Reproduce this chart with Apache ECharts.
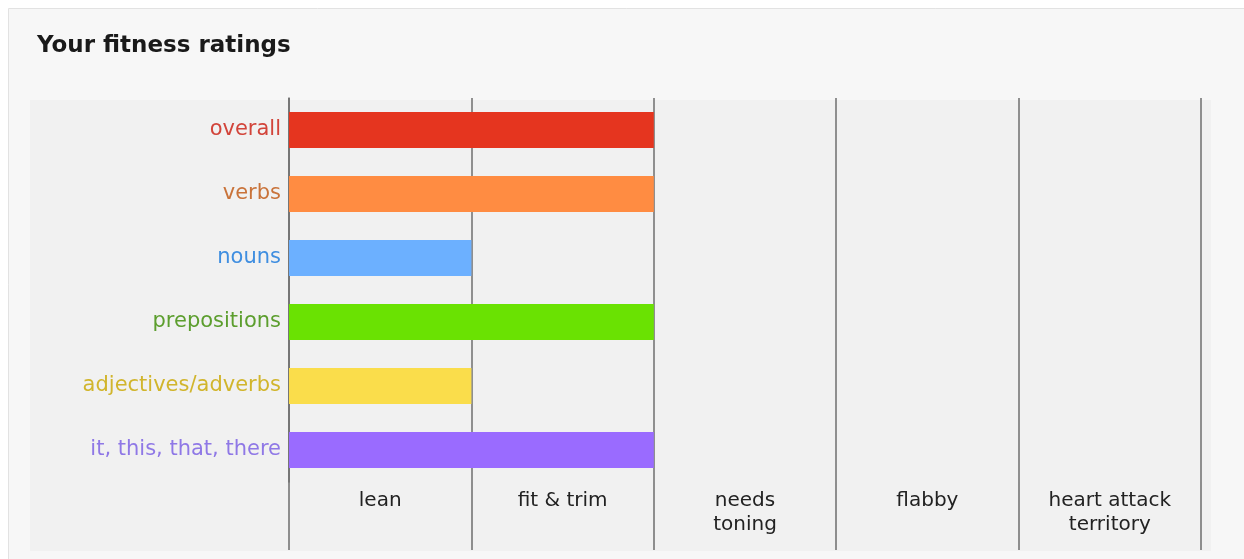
<!DOCTYPE html>
<html><head><meta charset="utf-8">
<script src="https://cdn.jsdelivr.net/npm/echarts@6/dist/echarts.min.js"></script>
<style>html,body{margin:0;padding:0;background:#fff}#c{width:1244px;height:559px}</style>
</head><body><div id="c"></div>
<script>
const categories = ['overall','verbs','nouns','prepositions','adjectives/adverbs','it, this, that, there'];
const values = [2, 2, 1, 2, 1, 2];
const barColors = ['#e5351f','#ff8c42','#6cb0ff','#6ae202','#fadd4b','#9a6bff'];
const labelColors = ['#d2443a','#c9733a','#3f8ee0','#5c9e2e','#d1b52c','#8f78e6'];
const ratingLabels = ['lean','fit & trim','needs\ntoning','flabby','heart attack\nterritory'];

const chart = echarts.init(document.getElementById('c'));
const cats = categories.slice().reverse();
const vals = values.slice().reverse();
const bc = barColors.slice().reverse();
const lc = labelColors.slice().reverse();
const font = '"DejaVu Sans", Verdana, sans-serif';
chart.setOption({
  backgroundColor: '#fff',
  animation: false,
  graphic: [
    {type:'rect', z:-10, shape:{x:8.5,y:8.5,width:1250,height:560}, style:{fill:'#f7f7f7', stroke:'#e2e2e2', lineWidth:1}},
    {type:'rect', z:-9, shape:{x:30,y:100,width:1181,height:451}, style:{fill:'#f1f1f1'}}
  ],
  title: {text:'Your fitness ratings', left:32, top:30, textStyle:{fontFamily:font, fontSize:23, fontWeight:'bold', color:'#1a1a1a'}},
  grid: {left:289, right:43, top:98, height:384, containLabel:false},
  xAxis: [
    {type:'value', min:0, max:5, interval:1, show:false},
    {type:'category', data:ratingLabels, position:'bottom', boundaryGap:true,
     axisLine:{show:false},
     axisTick:{show:true, length:68, lineStyle:{color:'#6e6e6e', width:1.5}},
     splitLine:{show:true, lineStyle:{color:'#6e6e6e', width:1.5}},
     axisLabel:{margin:7, color:'#222', fontFamily:font, fontSize:20, lineHeight:24, verticalAlign:'top', align:'center', interval:0}}
  ],
  yAxis: {type:'category', data:cats, axisLine:{show:true, lineStyle:{color:'#6e6e6e', width:1.5}}, axisTick:{show:false},
    axisLabel:{margin:8, fontFamily:font, fontSize:21, color:function(v, i){return lc[i];}}},
  series: [{type:'bar', xAxisIndex:0, data:vals.map((v,i)=>({value:v, itemStyle:{color:bc[i]}})), barWidth:36}]
});
</script></body></html>
